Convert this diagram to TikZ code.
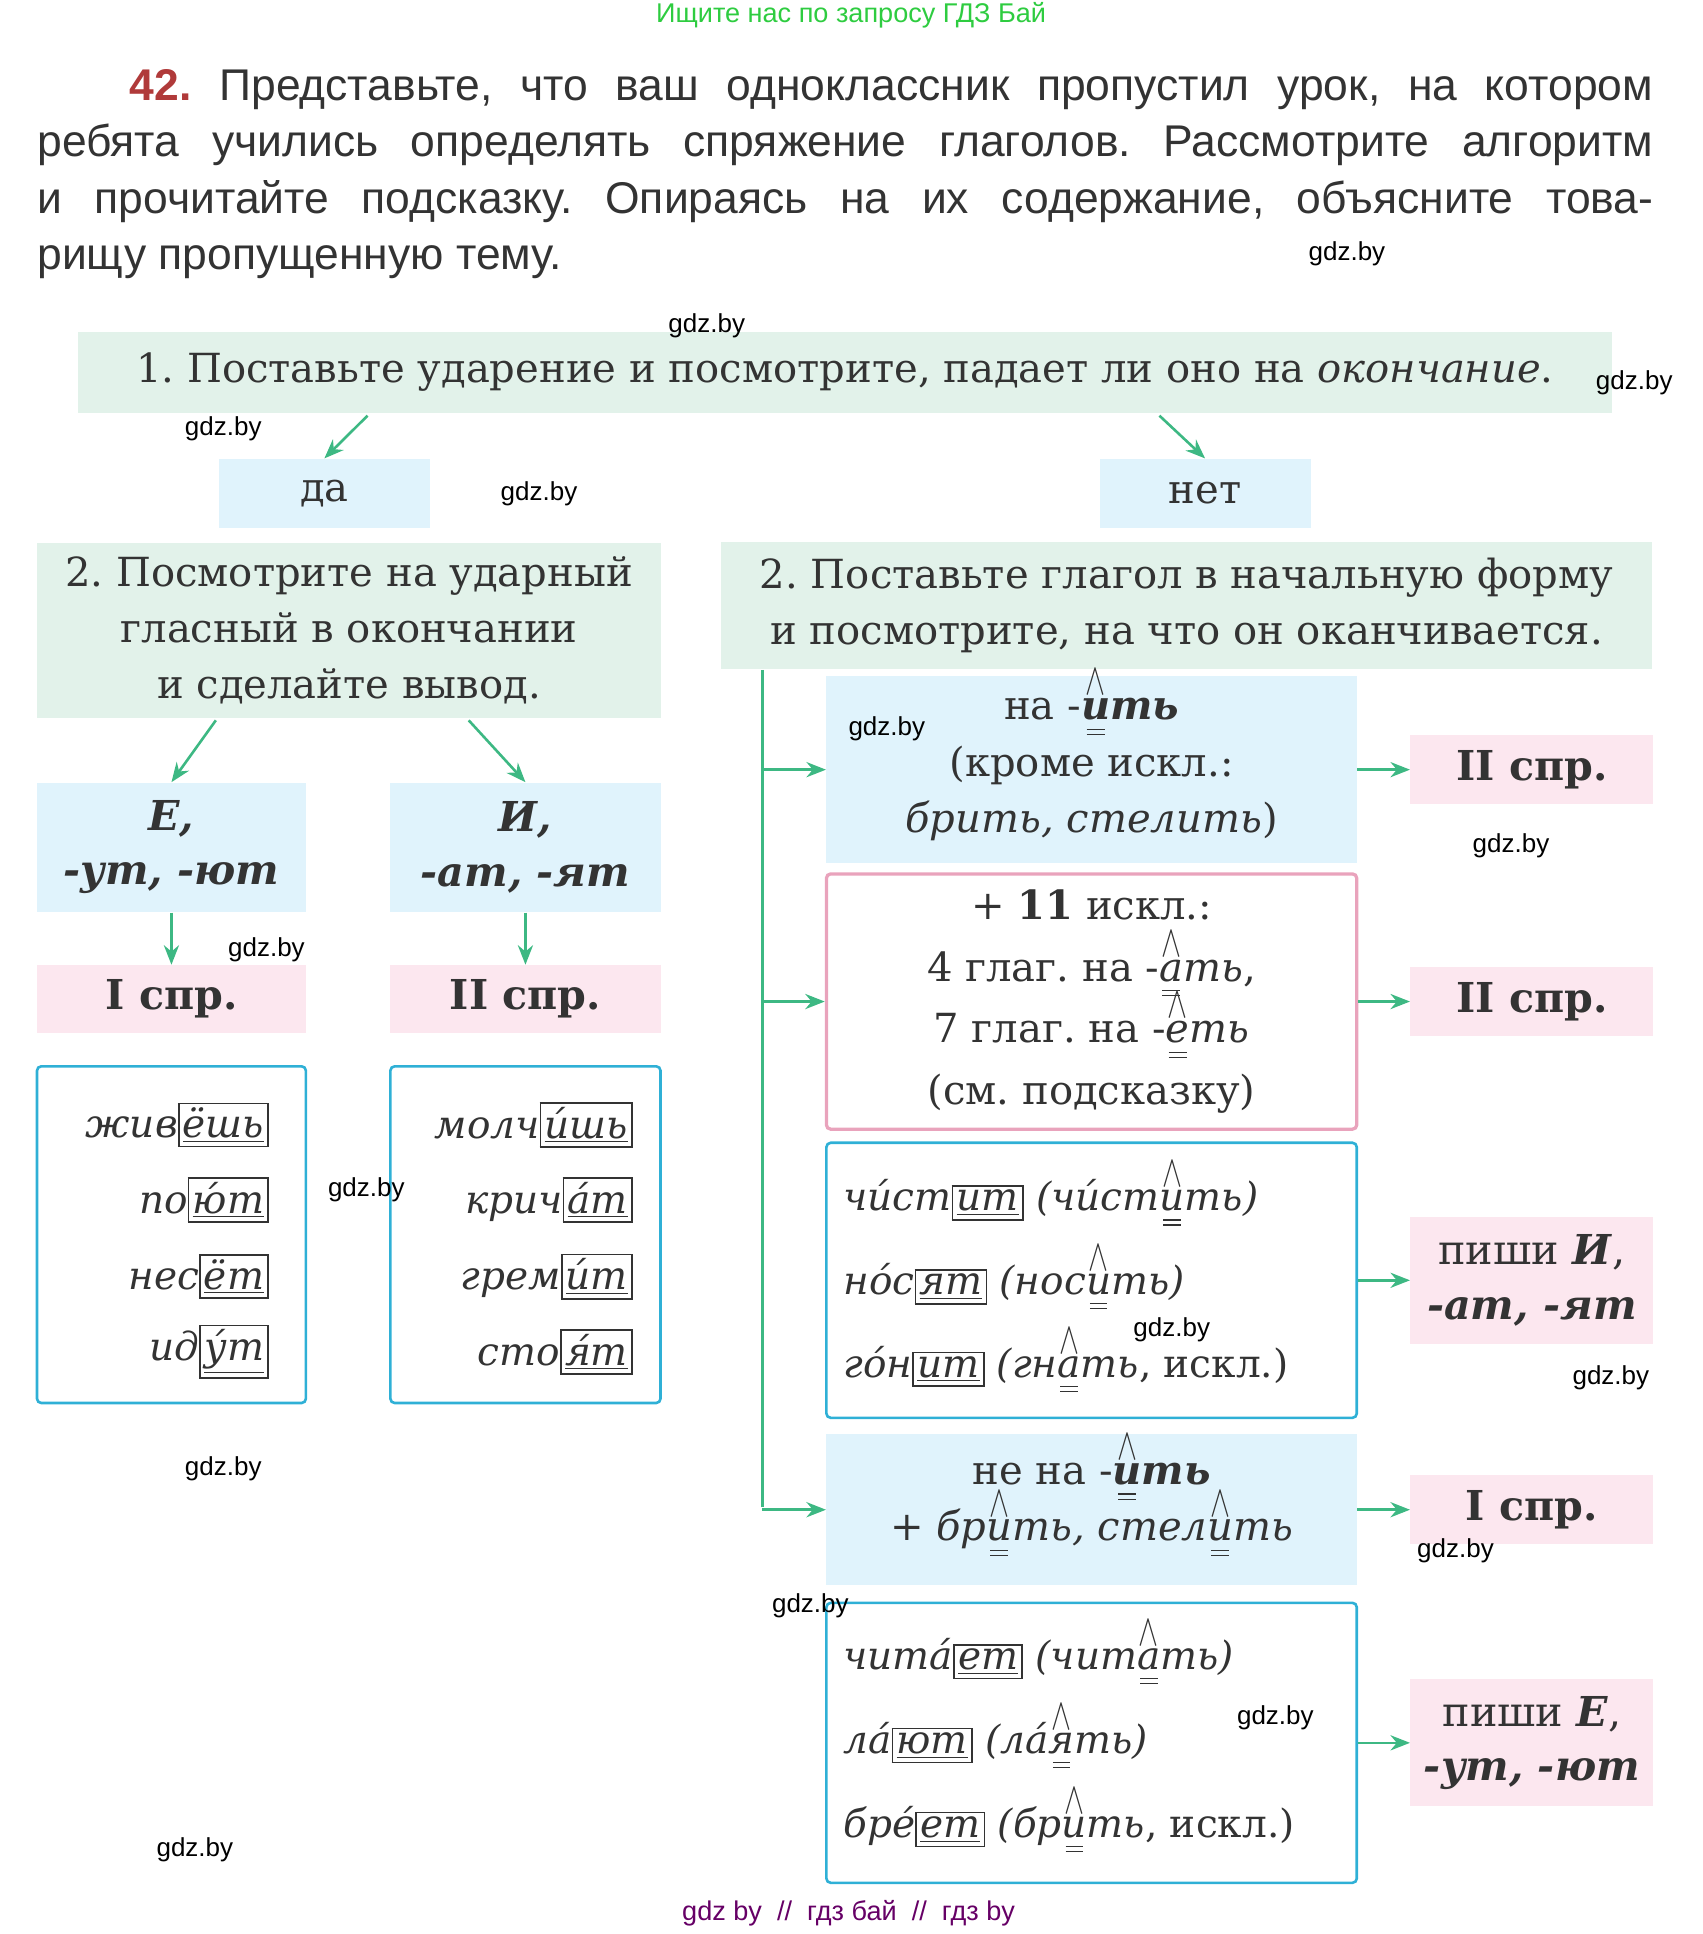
\documentclass[tikz,border=0pt]{standalone}
\usepackage{fontspec}
\setmainfont{DejaVu Serif}
\newfontfamily\headfont{Liberation Sans}
\usetikzlibrary{arrows.meta,positioning}
\frenchspacing
\definecolor{stepgreen}{HTML}{E2F2EA}
\definecolor{ansblue}{HTML}{E0F3FC}
\definecolor{sprpink}{HTML}{FCE7EF}
\definecolor{pinkline}{HTML}{E9A3BC}
\definecolor{blueline}{HTML}{2FB0D6}
\definecolor{arrgreen}{HTML}{3DB883}
\definecolor{ink}{HTML}{333333}
\newcommand\udar[1]{\ooalign{#1\cr\hfil\raisebox{0.62em}{\scalebox{0.8}[1.2]{$\wedge$}}\hfil\cr\hfil\raisebox{-0.25em}{\rule{0.45em}{0.6pt}}\hfil\cr\hfil\raisebox{-0.38em}{\rule{0.45em}{0.6pt}}\hfil\cr}}
\newcommand\okon[1]{{\fboxsep=1.5pt\fboxrule=0.8pt\fbox{#1}}}
\tikzset{
  box/.style={inner sep=2pt, align=center, text=ink, font=\fontsize{18.5}{26}\selectfont},
  algstep/.style={box, fill=stepgreen},
  answer/.style={box, fill=ansblue},
  spr/.style={box, fill=sprpink, font=\fontsize{19}{25}\selectfont\bfseries},
  exbox/.style={box, draw=blueline, line width=1.2pt, rounded corners=2pt},
  arr/.style={-{Stealth[length=9pt,width=7pt]}, arrgreen, line width=1.2pt},
  wmark/.style={font=\headfont\fontsize{12}{12}\selectfont, text=black},
}
\begin{document}
\begin{tikzpicture}[x=0.2mm, y=-0.2mm]
\useasboundingbox (0,0) rectangle (1380,1568);

% task text
\node (top) at (690,12) {\headfont\fontsize{12.5}{14}\selectfont\color[HTML]{2ECC40}Ищите нас по запросу ГДЗ Бай};
\node (task) [anchor=north west, inner sep=0pt, text width=262mm, align=justify, text=ink,
  font=\headfont\fontsize{20.5}{26}\selectfont] at (30,56)
  {\hspace*{15mm}{\bfseries\color[HTML]{B03A3A}42.} Представьте, что ваш одноклассник пропустил урок, на котором\linebreak
   ребята учились определять спряжение глаголов. Рассмотрите алгоритм\linebreak
   и прочитайте подсказку. Опираясь на их содержание, объясните това-\linebreak
   рищу пропущенную тему.};

% step 1
\node (s1) [algstep, minimum width=1244*0.2mm, minimum height=66*0.2mm] at (685,302)
  {1. Поставьте ударение и посмотрите, падает ли оно на \textit{окончание}.};
\node (da) [answer, minimum width=171*0.2mm, minimum height=56*0.2mm] at (263,400) {да};
\node (net) [answer, minimum width=171*0.2mm, minimum height=56*0.2mm] at (977,400) {нет};
\coordinate (s1l) at (298,337);
\coordinate (s1r) at (940,337);
\draw[arr] (s1l) -- (da.north);
\draw[arr] (s1r) -- (net.north);

% left branch
\node (s2l) [algstep, minimum width=506*0.2mm, minimum height=142*0.2mm] at (283,511)
  {2. Посмотрите на ударный\\гласный в окончании\\и сделайте вывод.};
\node (ee) [answer, font=\fontsize{19}{25}\selectfont\bfseries\itshape, minimum width=218*0.2mm, minimum height=105*0.2mm] at (139,687) {Е,\\-ут, -ют};
\node (ii) [answer, font=\fontsize{19}{25}\selectfont\bfseries\itshape, minimum width=219*0.2mm, minimum height=105*0.2mm] at (426,687) {И,\\-ат, -ят};
\coordinate (s2a) at (175,584);
\coordinate (s2b) at (380,584);
\draw[arr] (s2a) -- (ee.north);
\draw[arr] (s2b) -- (ii.north);
\node (spr1) [spr, minimum width=218*0.2mm, minimum height=55*0.2mm] at (139,810) {I спр.};
\node (spr2) [spr, minimum width=219*0.2mm, minimum height=55*0.2mm] at (426,810) {II спр.};
\draw[arr] (ee) -- (spr1);
\draw[arr] (ii) -- (spr2);
\node (exl) [exbox, minimum width=218*0.2mm, minimum height=273*0.2mm] at (139,1001) {};
\node (exr) [exbox, minimum width=219*0.2mm, minimum height=273*0.2mm] at (426,1001) {};
\foreach \y/\st/\en in {912/жив/ёшь, 973/по/ю́т, 1035/нес/ёт, 1096/ид/у́т}
  \node[box, anchor=east, font=\fontsize{18}{20}\selectfont\itshape] at (222,\y) {\st\okon{\underline{\en}}};
\foreach \y/\st/\en in {912/молч/и́шь, 973/крич/а́т, 1035/грем/и́т, 1096/сто/я́т}
  \node[box, anchor=east, font=\fontsize{18}{20}\selectfont\itshape] at (517,\y) {\st\okon{\underline{\en}}};

% right branch
\node (s2r) [algstep, minimum width=755*0.2mm, minimum height=103*0.2mm] at (962,491)
  {2. Поставьте глагол в начальную форму\\и посмотрите, на что он оканчивается.};
\node (ra) [answer, minimum width=430*0.2mm, minimum height=152*0.2mm] at (885,624)
  {на -\textbf{\textit{\udar{и}ть}}\\(кроме искл.:\\\textit{брить, стелить})};
\node (rb) [box, draw=pinkline, line width=1.5pt, rounded corners=2pt, minimum width=430*0.2mm, minimum height=207*0.2mm, font=\fontsize{18.5}{28.5}\selectfont] at (885,812)
  {+ \textbf{11} искл.:\\4 глаг. на -\textit{\udar{а}ть},\\7 глаг. на -\textit{\udar{е}ть}\\(см. подсказку)};
\node (rc) [exbox, minimum width=430*0.2mm, minimum height=223*0.2mm] at (885,1038) {};
\node (rd) [answer, minimum width=430*0.2mm, minimum height=122*0.2mm] at (885,1224)
  {не на -\textbf{\textit{\udar{и}ть}}\\+ \textit{бр\udar{и}ть, стел\udar{и}ть}};
\node (re) [exbox, minimum width=430*0.2mm, minimum height=227*0.2mm] at (885,1413) {};
\foreach \y/\t in {975/{\textit{чи́ст\okon{\underline{ит}} (чи́ст\udar{и}ть)}},
                   1043/{\textit{но́с\okon{\underline{ят}} (нос\udar{и}ть)}},
                   1110/{\textit{го́н\okon{\underline{ит}} (гн\udar{а}ть}, искл.)},
                   1347/{\textit{чита́\okon{\underline{ет}} (чит\udar{а}ть)}},
                   1415/{\textit{ла́\okon{\underline{ют}} (ла́\udar{я}ть)}},
                   1483/{\textit{бре́\okon{\underline{ет}} (бр\udar{и}ть}, искл.)}}
  \node[box, anchor=west, font=\fontsize{18}{20}\selectfont] at (680,\y) {\t};

\coordinate (trunk) at (618,543);
\coordinate (trunkend) at (618,1222);
\draw[arrgreen, line width=1.2pt] (trunk) -- (trunkend);
\foreach \n in {ra, rb, rd}
  \draw[arr] (trunk |- \n.west) -- (\n.west);

\node (pa) [spr, minimum width=197*0.2mm, minimum height=56*0.2mm] at (1242,624) {II спр.};
\node (pb) [spr, minimum width=197*0.2mm, minimum height=56*0.2mm] at (1242,812) {II спр.};
\node (pc) [spr, font=\fontsize{19}{25}\selectfont, minimum width=197*0.2mm, minimum height=103*0.2mm] at (1242,1038) {пиши \textbf{\textit{И}},\\\textbf{\textit{-ат, -ят}}};
\node (pd) [spr, minimum width=197*0.2mm, minimum height=56*0.2mm] at (1242,1224) {I спр.};
\node (pe) [spr, font=\fontsize{19}{25}\selectfont, minimum width=197*0.2mm, minimum height=103*0.2mm] at (1242,1413) {пиши \textbf{\textit{Е}},\\\textbf{\textit{-ут, -ют}}};
\foreach \a/\b in {ra/pa, rb/pb, rc/pc, rd/pd, re/pe}
  \draw[arr] (\a.east) -- (\b.west);

% watermarks
\foreach \x/\y [count=\i] in {1092/206, 573/264, 1325/310, 181/348, 437/400, 719/591, 1225/686, 216/770,
  297/965, 950/1078, 1306/1117, 181/1191, 1180/1257, 657/1302, 1034/1393, 158/1500}
  \node (gdz\i) [wmark] at (\x,\y) {gdz.by};
\node (foot) [font=\headfont\fontsize{12.5}{14}\selectfont, text=violet!80!black] at (688,1551) {gdz by \ // \ гдз бай \ // \ гдз by};
\end{tikzpicture}
\end{document}
